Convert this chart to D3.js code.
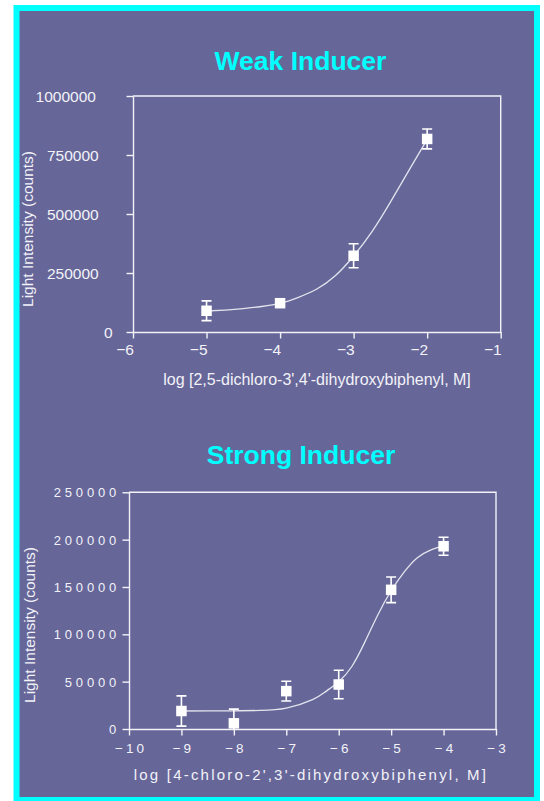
<!DOCTYPE html>
<html>
<head>
<meta charset="utf-8">
<script src="https://cdn.jsdelivr.net/npm/d3@7"></script>
<style>
  html, body { margin: 0; padding: 0; background: #ffffff; }
  svg { display: block; }
  text { font-family: "Liberation Sans", Arial, sans-serif; }
</style>
</head>
<body>
<svg id="chart" width="544" height="801"></svg>
<script>
// ---- Weak inducer: 2,5-dichloro-3',4'-dihydroxybiphenyl ----
const weakLogConc = [-5, -4, -3, -2];
const weakMean    = [90000, 122000, 323000, 818000];
const weakErr     = [42000, 8000, 51000, 42000];
// fitted dose-response curve (log M, counts)
const weakFitX = [-5, -4.75, -4.5, -4.25, -4, -3.75, -3.5, -3.25, -3, -2.75, -2.5, -2.25, -2];
const weakFitY = [89000, 93000, 99000, 108000, 121000, 147000, 182000, 238000, 322000, 425000, 550000, 684000, 816000];
const weakXTicks = [-6, -5, -4, -3, -2, -1];
const weakYTicks = [0, 250000, 500000, 750000, 1000000];

// ---- Strong inducer: 4-chloro-2',3'-dihydroxybiphenyl ----
const strongLogConc = [-9, -8, -7, -6, -5, -4];
const strongMean    = [19000, 6000, 40000, 47000, 147000, 193000];
const strongErr     = [16000, 15000, 10500, 15000, 13500, 9500];
const strongFitX = [-9, -8.5, -8, -7.5, -7, -6.5, -6.25, -6, -5.75, -5.5, -5.25, -5, -4.75, -4.5, -4.25, -4];
const strongFitY = [19000, 19100, 19200, 19600, 22000, 31000, 39500, 50000, 66000, 92000, 121000, 146000, 166000, 181000, 189000, 194000];
const strongXTicks = [-10, -9, -8, -7, -6, -5, -4, -3];
const strongYTicks = [0, 50000, 100000, 150000, 200000, 250000];

const PANEL = "#666699", CYAN = "#00ffff", INK = "#f2f2f8", CURVE = "#e4e4ee";

const svg = d3.select("#chart");

// cyan-bordered panel
svg.append("rect")
  .attr("x", 16.5).attr("y", 8).attr("width", 520.5).attr("height", 792)
  .attr("fill", PANEL).attr("stroke", CYAN).attr("stroke-width", 6);

function panel(cfg) {
  const x = d3.scaleLinear().domain(cfg.xDomain).range([cfg.left, cfg.right]);
  const y = d3.scaleLinear().domain(cfg.yDomain).range([cfg.bottom, cfg.top]);
  const g = svg.append("g");

  // title
  g.append("text")
    .attr("x", cfg.titleX).attr("y", cfg.titleY)
    .attr("text-anchor", "middle")
    .attr("font-size", 26.5).attr("font-weight", "bold")
    .attr("fill", CYAN)
    .text(cfg.title);

  // frame: top and right edges
  g.append("path")
    .attr("d", `M${cfg.left},${cfg.top}H${cfg.right}V${cfg.bottom}`)
    .attr("fill", "none").attr("stroke", INK).attr("stroke-width", 1.4);

  // left axis
  const yAxis = d3.axisLeft(y).tickValues(cfg.yTicks).tickSize(6.5).tickSizeOuter(0)
    .tickFormat(d3.format("d"));
  const ya = g.append("g").attr("transform", `translate(${cfg.left},0)`).call(yAxis);
  ya.select(".domain").attr("stroke", INK).attr("stroke-width", 1.4);
  ya.selectAll(".tick line").attr("stroke", INK).attr("stroke-width", 1.4);
  ya.selectAll(".tick text")
    .attr("fill", INK).attr("font-size", cfg.yTickSize)
    .attr("letter-spacing", cfg.yTickSpacing)
    .attr("font-family", '"Liberation Sans", Arial, sans-serif')
    .attr("dy", "0.35em");
  if (cfg.yTickPlace) cfg.yTickPlace(ya.selectAll(".tick text"));
  else ya.selectAll(".tick text").attr("x", -cfg.yTickGap);

  // bottom axis
  const xAxis = d3.axisBottom(x).tickValues(cfg.xTicks).tickSize(6.5).tickSizeOuter(0)
    .tickFormat(d3.format("d"));
  const xa = g.append("g").attr("transform", `translate(0,${cfg.bottom})`).call(xAxis);
  xa.select(".domain").attr("stroke", INK).attr("stroke-width", 1.4);
  xa.selectAll(".tick line").attr("stroke", INK).attr("stroke-width", 1.4);
  xa.selectAll(".tick text")
    .attr("fill", INK).attr("font-size", cfg.xTickSize)
    .attr("letter-spacing", cfg.xTickSpacing)
    .attr("font-family", '"Liberation Sans", Arial, sans-serif')
    .attr("text-anchor", cfg.xTickAnchor)
    .attr("dx", cfg.xTickDx)
    .attr("y", cfg.xTickY).attr("dy", 0);

  // axis titles
  g.append("text")
    .attr("transform", `translate(${cfg.yLabelX},${cfg.yLabelY}) rotate(-90)`)
    .attr("text-anchor", "middle")
    .attr("font-size", 15.5).attr("fill", INK)
    .text("Light Intensity (counts)");
  g.append("text")
    .attr("x", cfg.xLabelX).attr("y", cfg.xLabelY)
    .attr("text-anchor", "middle")
    .attr("font-size", cfg.xLabelSize).attr("fill", INK)
    .attr("letter-spacing", cfg.xLabelSpacing)
    .text(cfg.xLabel);

  // plot clip for error bars
  const clipId = cfg.id + "-clip";
  svg.append("clipPath").attr("id", clipId)
    .append("rect").attr("x", cfg.left).attr("y", cfg.top)
    .attr("width", cfg.right - cfg.left).attr("height", cfg.bottom - cfg.top);

  // fitted curve
  const fit = cfg.fitX.map((v, i) => [v, cfg.fitY[i]]);
  g.append("path")
    .datum(fit)
    .attr("fill", "none").attr("stroke", CURVE).attr("stroke-width", 1.3)
    .attr("d", d3.line().x(d => x(d[0])).y(d => y(d[1])).curve(d3.curveNatural));

  // error bars
  const pts = cfg.xs.map((v, i) => ({ x: v, m: cfg.means[i], e: cfg.errs[i] }));
  const eb = g.append("g").attr("clip-path", `url(#${clipId})`)
    .attr("stroke", "#ffffff").attr("stroke-width", 1.6).attr("fill", "none");
  const cap = 5;
  eb.selectAll("path").data(pts).join("path")
    .attr("d", d => {
      const cx = x(d.x), y1 = y(d.m + d.e), y0 = y(d.m - d.e);
      return `M${cx},${y1}V${y0}M${cx - cap},${y1}H${cx + cap}M${cx - cap},${y0}H${cx + cap}`;
    });

  // markers
  const s = 10.5;
  g.append("g").selectAll("rect").data(pts).join("rect")
    .attr("x", d => x(d.x) - s / 2).attr("y", d => y(d.m) - s / 2)
    .attr("width", s).attr("height", s)
    .attr("fill", "#ffffff");
}

panel({
  id: "weak",
  title: "Weak Inducer", titleX: 300.5, titleY: 69.5,
  left: 133, right: 500.7, top: 96, bottom: 332,
  xDomain: [-6, -1], yDomain: [0, 1000000],
  xTicks: weakXTicks, yTicks: weakYTicks,
  yTickSize: 15.5, yTickSpacing: 0, yTickGap: 10,
  // labels laid out from a fixed left origin per character count
  yTickPlace: sel => sel.attr("text-anchor", "start")
    .attr("x", function () { return -17.6 - this.textContent.length * 11.4; }),
  xTickSize: 15.5, xTickSpacing: 0, xTickAnchor: "end", xTickDx: 0.5, xTickY: 23,
  yLabelX: 32.8, yLabelY: 229,
  xLabel: "log [2,5-dichloro-3',4'-dihydroxybiphenyl, M]",
  xLabelX: 317, xLabelY: 385, xLabelSize: 16, xLabelSpacing: 0,
  xs: weakLogConc, means: weakMean, errs: weakErr,
  fitX: weakFitX, fitY: weakFitY
});

panel({
  id: "strong",
  title: "Strong Inducer", titleX: 301, titleY: 464.3,
  left: 129, right: 496, top: 492.3, bottom: 729,
  xDomain: [-10, -3], yDomain: [0, 250000],
  xTicks: strongXTicks, yTicks: strongYTicks,
  yTickSize: 13, yTickSpacing: 3.8, yTickGap: 9,
  xTickSize: 13.5, xTickSpacing: 3, xTickAnchor: "middle", xTickDx: 1.5, xTickY: 24.3,
  yLabelX: 35, yLabelY: 625,
  xLabel: "log [4-chloro-2',3'-dihydroxybiphenyl, M]",
  xLabelX: 311, xLabelY: 780, xLabelSize: 15, xLabelSpacing: 2.2,
  xs: strongLogConc, means: strongMean, errs: strongErr,
  fitX: strongFitX, fitY: strongFitY
});
</script>
</body>
</html>
